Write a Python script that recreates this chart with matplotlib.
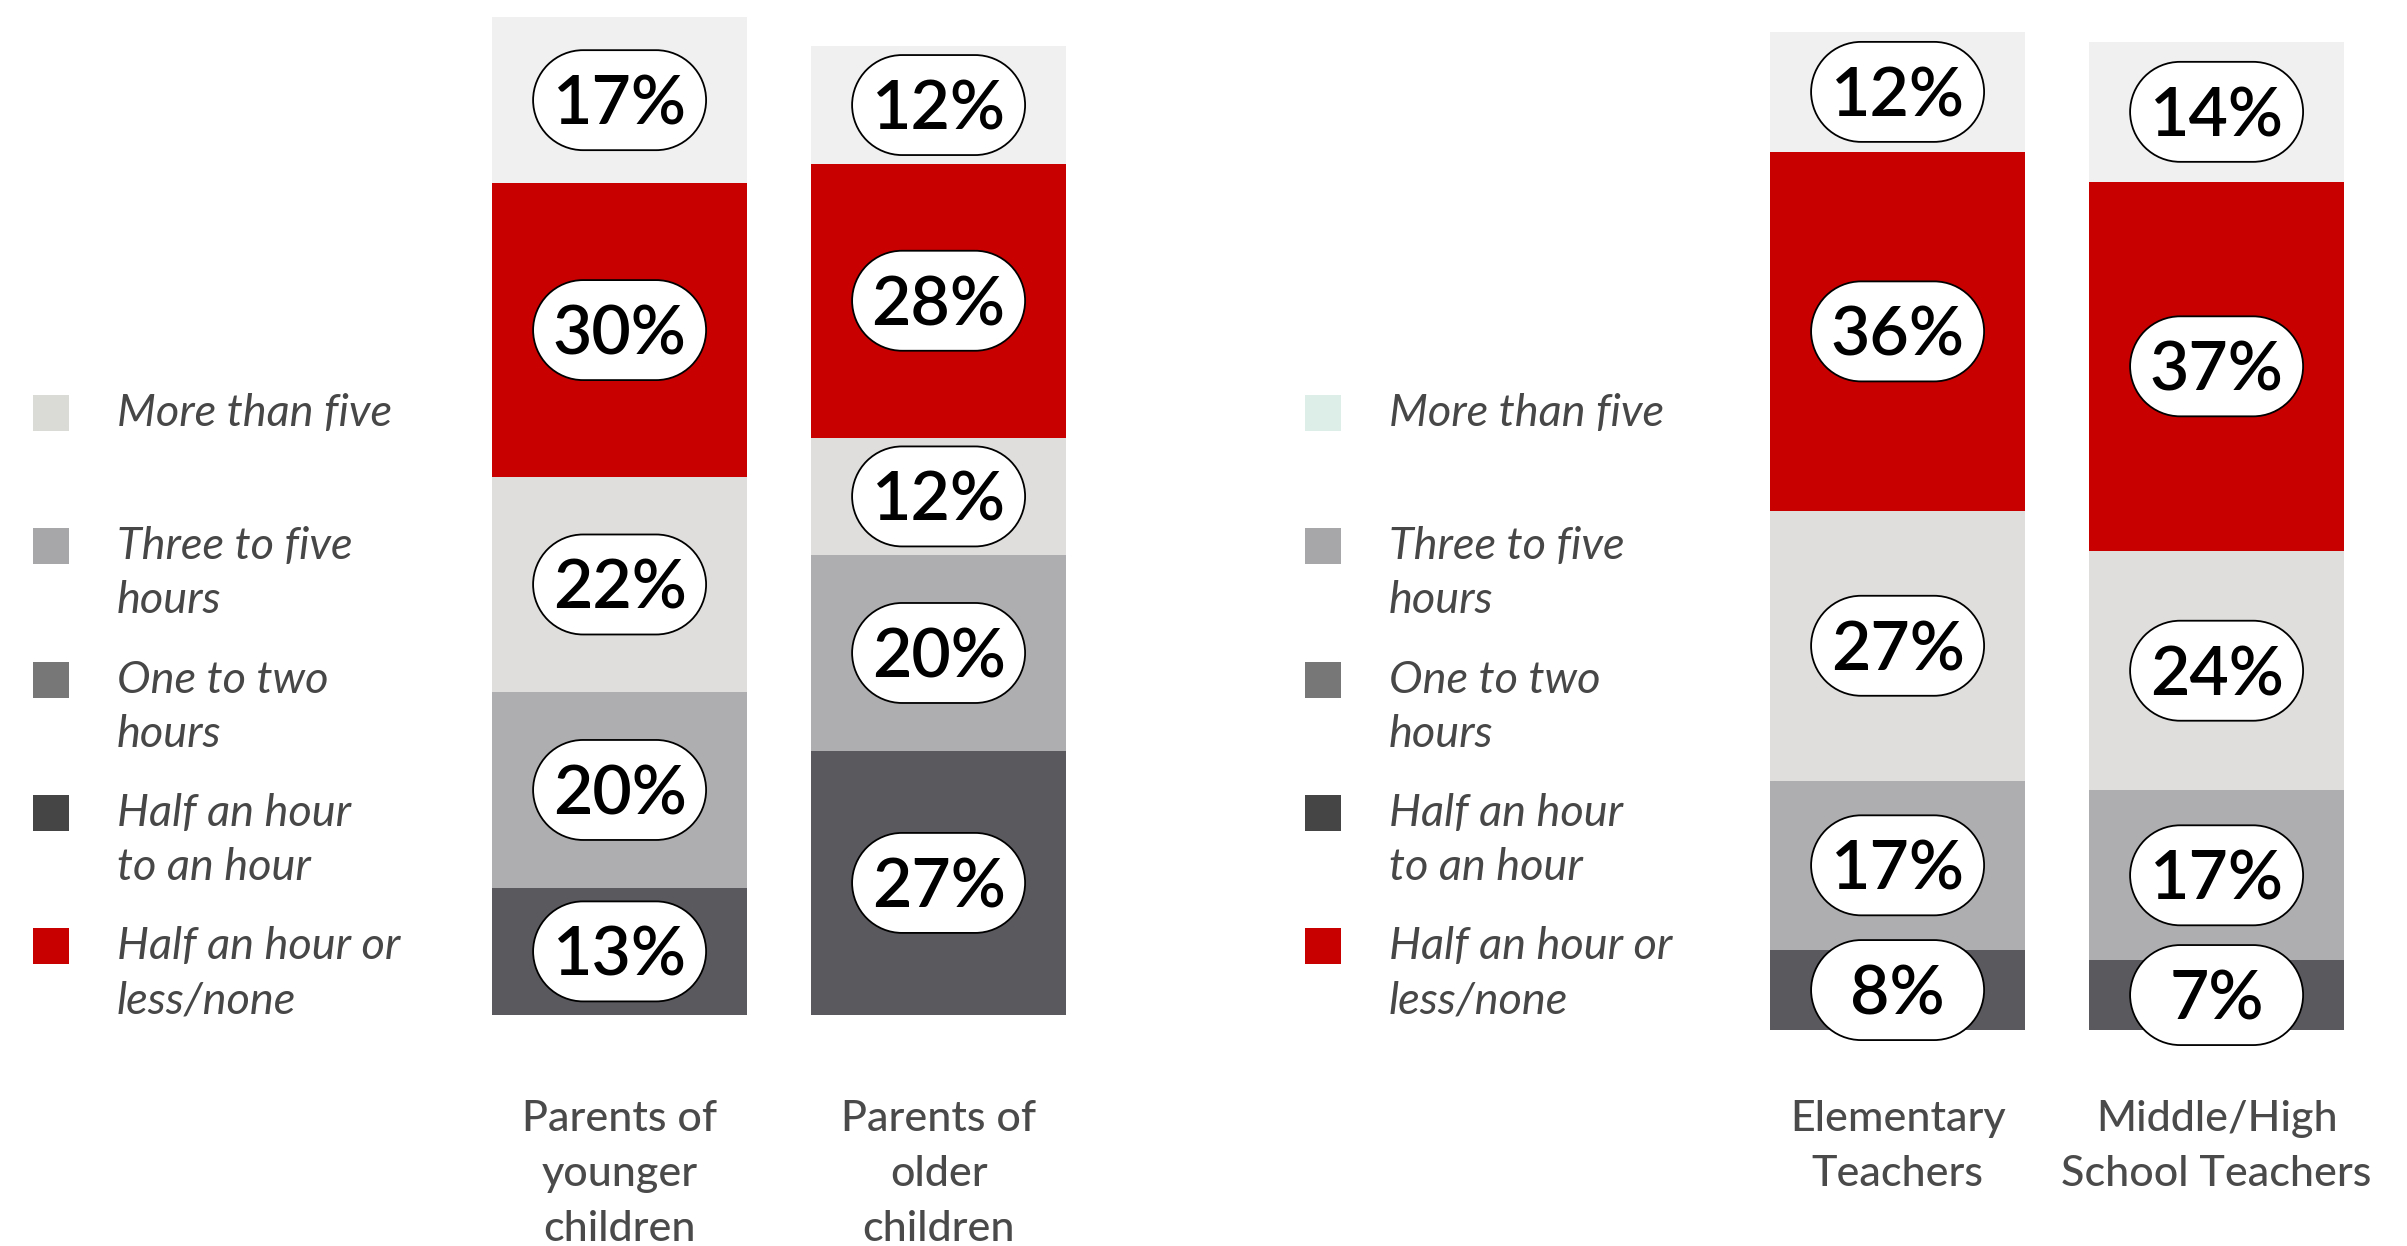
import numpy as np
import matplotlib
matplotlib.use("Agg")
import matplotlib.pyplot as plt
from matplotlib.patches import PathPatch, Rectangle
from matplotlib.path import Path
from matplotlib.transforms import ScaledTranslation, blended_transform_factory

# ---------------------------------------------------------------- data
legend_labels = [
    "More than five",
    "Three to five\nhours",
    "One to two\nhours",
    "Half an hour\nto an hour",
    "Half an hour or\nless/none",
]

parent_groups = ["Parents of\nyounger\nchildren", "Parents of\nolder\nchildren"]
teacher_groups = ["Elementary\nTeachers", "Middle/High\nSchool Teachers"]

# stack order: first list is the top segment, last list is the bottom one
parents_more_than_five = [17, 12]
parents_three_to_five = [30, 28]
parents_one_to_two = [22, 12]
parents_half_to_hour = [20, 20]
parents_half_or_less = [13, 27]

teachers_more_than_five = [12, 14]
teachers_three_to_five = [36, 37]
teachers_one_to_two = [27, 24]
teachers_half_to_hour = [17, 17]
teachers_half_or_less = [8, 7]

# ---------------------------------------------------------------- style
segment_colors = ["#F0F0F0", "#C80000", "#DFDEDC", "#AEAEB0", "#5A595E"]
legend_colors_parents = ["#DADAD6", "#A7A7A9", "#777777", "#454545", "#C90000"]
legend_colors_teachers = ["#DDEDE8", "#A7A7A9", "#777777", "#454545", "#C90000"]
legend_text_color = "#474747"
group_text_color = "#4A4A4A"
FONT = ["Lato", "DejaVu Sans"]

W, H, DPI = 2407, 1246, 100
fig = plt.figure(figsize=(W / DPI, H / DPI), dpi=DPI)
fig.patch.set_facecolor("white")


def fx(px):
    return px / W


def fy(py):
    return 1 - py / H


BAR_PITCH = 319.0   # pixel distance between bar centres
BAR_WIDTH = 0.8     # in data units (one unit = BAR_PITCH px)
PILL_W, PILL_H = 1.73, 1.0  # inches


def stadium_path(width, height):
    """Closed outline of a pill: straight top/bottom, semicircular ends."""
    r = height / 2
    a = width / 2 - r
    right = Path.arc(-90, 90)
    left = Path.arc(90, 270)
    verts = [(-a, -r), (a, -r)]
    verts += [(a + r * x, r * y) for x, y in right.vertices[1:]]
    verts += [(-a, r)]
    verts += [(-a + r * x, r * y) for x, y in left.vertices[1:]]
    verts = np.array(verts)
    codes = ([Path.MOVETO, Path.LINETO] + list(right.codes[1:]) +
             [Path.LINETO] + list(left.codes[1:]))
    verts = np.vstack([verts, verts[:1]])
    codes.append(Path.CLOSEPOLY)
    return Path(verts, codes)


PILL_PATH = stadium_path(PILL_W, PILL_H)


def pill(ax, x, y, text):
    trans = fig.dpi_scale_trans + ScaledTranslation(x, y, ax.transData)
    box = PathPatch(PILL_PATH, transform=trans, facecolor="white",
                    edgecolor="black", linewidth=1.3, zorder=5,
                    clip_on=False)
    ax.add_patch(box)
    ax.text(0, -0.245, text, transform=trans, ha="center", va="baseline",
            fontsize=49, family=FONT, fontweight="semibold", color="black",
            zorder=6, clip_on=False)


def panel(left_px, bottom_px, top_px, ymax, groups, series,
          sq_x, txt_x, legend_colors):
    width_px = 1.8 * BAR_PITCH
    ax = fig.add_axes([fx(left_px), fy(bottom_px), width_px / W,
                       (bottom_px - top_px) / H])
    ax.set_xlim(-0.4, 1.4)
    ax.set_ylim(0, ymax)
    ax.axis("off")

    xs = list(range(len(groups)))
    bottoms = [0] * len(groups)
    for values, color in zip(reversed(series), reversed(segment_colors)):
        ax.bar(xs, values, width=BAR_WIDTH, bottom=bottoms, color=color,
               linewidth=0, zorder=2)
        for xi, b, v in zip(xs, bottoms, values):
            pill(ax, xi, b + v / 2, f"{v}%")
        bottoms = [b + v for b, v in zip(bottoms, values)]

    # group names under the bars
    tr = blended_transform_factory(ax.transData, fig.transFigure)
    for xi, name in zip(xs, groups):
        for j, line in enumerate(name.split("\n")):
            ax.text(xi, fy(1131 + 55 * j), line, transform=tr,
                    ha="center", va="baseline", fontsize=31, family=FONT,
                    fontweight="medium", color=group_text_color,
                    clip_on=False)

    # legend
    for i, (label, color) in enumerate(zip(legend_labels, legend_colors)):
        top = 395 + 133.3 * i
        fig.add_artist(Rectangle((fx(sq_x), fy(top + 36)), 36 / W, 36 / H,
                                 transform=fig.transFigure, facecolor=color,
                                 edgecolor="none"))
        for j, line in enumerate(label.split("\n")):
            fig.text(fx(txt_x), fy(top + 31 + 54 * j), line,
                     ha="left", va="baseline", fontsize=32.5, family=FONT,
                     fontstyle="italic", color=legend_text_color)
    ax.set_xlim(-0.4, 1.4)
    ax.set_ylim(0, ymax)
    return ax


parents_series = [parents_more_than_five, parents_three_to_five,
                  parents_one_to_two, parents_half_to_hour,
                  parents_half_or_less]
teachers_series = [teachers_more_than_five, teachers_three_to_five,
                   teachers_one_to_two, teachers_half_to_hour,
                   teachers_half_or_less]

panel(492, 1015, 17, 102, parent_groups, parents_series,
      33, 117, legend_colors_parents)
panel(1770, 1030, 32, 100, teacher_groups, teachers_series,
      1305, 1389, legend_colors_teachers)

fig.savefig("out.png", dpi=DPI, facecolor="white")
